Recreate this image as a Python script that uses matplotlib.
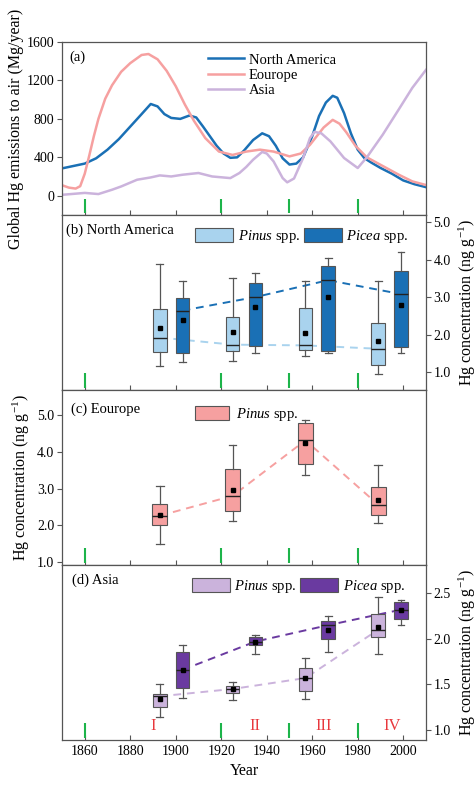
import matplotlib
matplotlib.use('Agg')
import matplotlib.pyplot as plt
from matplotlib.patches import Patch

plt.rcParams['font.family'] = ['Liberation Serif', 'DejaVu Serif']
plt.rcParams['mathtext.fontset'] = 'custom'
plt.rcParams['mathtext.rm'] = 'Liberation Serif'
plt.rcParams['mathtext.it'] = 'Liberation Serif:italic'
plt.rcParams['font.size'] = 10

# ---- panel (a): emissions (Mg/year) ----
na_years = [1850, 1855, 1860, 1865, 1870, 1875, 1880, 1885, 1889, 1892, 1895, 1898, 1902, 1906,
            1909, 1912, 1915, 1918, 1921, 1924, 1927, 1930, 1934, 1938, 1941, 1944, 1947, 1950,
            1953, 1956, 1960, 1963, 1966, 1969, 1971, 1974, 1977, 1980, 1983, 1986, 1990, 1995,
            2000, 2005, 2010]
na_vals = [285, 310, 335, 390, 480, 590, 720, 850, 955, 930, 850, 810, 800, 835,
           815, 720, 620, 520, 440, 395, 400, 470, 580, 650, 620, 520, 390, 325,
           335, 400, 620, 830, 970, 1040, 1020, 860, 650, 480, 390, 345, 290, 230,
           160, 120, 90]

eu_years = [1850, 1853, 1856, 1858, 1860, 1862, 1864, 1866, 1869, 1872, 1876, 1880, 1885, 1888,
            1892, 1896, 1900, 1904, 1908, 1913, 1919, 1925, 1931, 1937, 1943, 1950, 1955, 1959,
            1962, 1965, 1969, 1972, 1975, 1979, 1984, 1991, 1998, 2004, 2010]
eu_vals = [110, 85, 75, 100, 230, 420, 620, 800, 1010, 1150, 1290, 1380, 1465, 1475,
           1420, 1300, 1140, 950, 780, 600, 460, 425, 460, 480, 460, 410, 440, 530,
           620, 710, 790, 750, 660, 520, 400, 310, 220, 150, 112]

as_years = [1850, 1855, 1860, 1866, 1872, 1876, 1883, 1889, 1893, 1898, 1903, 1910, 1916, 1924,
            1928, 1931, 1934, 1938, 1940, 1943, 1947, 1949, 1952, 1956, 1959, 1961, 1964, 1968,
            1974, 1980, 1984, 1991, 1998, 2004, 2010]
as_vals = [10, 20, 30, 18, 63, 97, 167, 191, 212, 201, 219, 237, 201, 184,
           237, 300, 375, 456, 440, 358, 184, 140, 180, 393, 600, 665, 650, 566,
           393, 289, 400, 636, 897, 1123, 1310]

# ---- box statistics: [whislo, q1, med, q3, whishi, mean] ----
na_pinus_x = [1893, 1925, 1957, 1989]
na_pinus = [[1.16, 1.54, 1.92, 2.67, 3.87, 2.17],
            [1.29, 1.57, 1.73, 2.48, 3.51, 2.07],
            [1.43, 1.60, 1.71, 2.71, 3.42, 2.05],
            [0.96, 1.20, 1.62, 2.32, 3.42, 1.84]]
na_picea_x = [1903, 1935, 1967, 1999]
na_picea = [[1.28, 1.51, 2.64, 2.97, 3.44, 2.40],
            [1.52, 1.70, 3.00, 3.38, 3.63, 2.73],
            [1.51, 1.56, 3.45, 3.84, 4.03, 2.99],
            [1.51, 1.66, 3.08, 3.69, 4.20, 2.79]]

eu_pinus_x = [1893, 1925, 1957, 1989]
eu_pinus = [[1.48, 2.00, 2.26, 2.57, 3.06, 2.28],
            [2.11, 2.39, 2.80, 3.53, 4.18, 2.95],
            [3.36, 3.67, 4.31, 4.77, 4.85, 4.23],
            [2.05, 2.28, 2.56, 3.03, 3.65, 2.68]]

as_pinus_x = [1893, 1925, 1957, 1989]
as_pinus = [[1.14, 1.25, 1.37, 1.40, 1.50, 1.34],
            [1.33, 1.41, 1.45, 1.48, 1.53, 1.45],
            [1.34, 1.43, 1.57, 1.68, 1.79, 1.57],
            [1.83, 2.02, 2.10, 2.27, 2.46, 2.13]]
as_picea_x = [1903, 1935, 1967, 1999]
as_picea = [[1.35, 1.46, 1.66, 1.86, 1.93, 1.66],
            [1.83, 1.93, 1.97, 2.02, 2.04, 1.97],
            [1.86, 2.00, 2.15, 2.20, 2.25, 2.10],
            [2.15, 2.22, 2.32, 2.40, 2.43, 2.32]]

period_years = [1860, 1920, 1950, 1980]
period_labels = ['I', 'II', 'III', 'IV']
period_label_x = [1890, 1935, 1965, 1995]

C_NA, C_NA_L = '#1a70b5', '#a9d3ee'
C_EU = '#f6a0a0'
C_AS, C_AS_L = '#6a3aa0', '#cbb3dc'
GRAY = '#555555'
SERIF_IT = '$\\it{%s}$ spp.'


def stats(rows):
    out = []
    for r in rows:
        out.append(dict(whislo=r[0], q1=r[1], med=r[2], q3=r[3], whishi=r[4], mean=r[5]))
    return out


def draw_boxes(ax, xs, rows, color, line_color, width=6.0):
    meds = [r[2] for r in rows]
    ax.plot(xs, meds, ls=(0, (4, 3)), color=line_color, lw=1.4, zorder=1)
    ax.bxp(stats(rows), positions=xs, widths=width, showmeans=True, showfliers=False,
           patch_artist=True, capwidths=width * 0.5, manage_ticks=False,
           boxprops=dict(facecolor=color, edgecolor=GRAY, lw=0.8),
           medianprops=dict(color='#222222', lw=1.0),
           whiskerprops=dict(color=GRAY, lw=0.9),
           capprops=dict(color=GRAY, lw=0.9),
           meanprops=dict(marker='s', markerfacecolor='black', markeredgecolor='black',
                          markersize=3.5), zorder=3)


fig = plt.figure(figsize=(4.77, 7.85), dpi=100)
L, W = 0.130, 0.763
ax_a = fig.add_axes([L, 0.7261, W, 0.2204])
ax_b = fig.add_axes([L, 0.5032, W, 0.2229])
ax_c = fig.add_axes([L, 0.2803, W, 0.2229])
ax_d = fig.add_axes([L, 0.0573, W, 0.2229])
axes = [ax_a, ax_b, ax_c, ax_d]

# (a)
ax_a.plot(na_years, na_vals, color=C_NA, lw=1.8, label='North America')
ax_a.plot(eu_years, eu_vals, color=C_EU, lw=1.8, label='Eourope')
ax_a.plot(as_years, as_vals, color=C_AS_L, lw=1.8, label='Asia')
ax_a.set_ylim(-200, 1600)
ax_a.set_yticks([0, 400, 800, 1200, 1600])
ax_a.set_ylabel('Global Hg emissions to air (Mg/year)', fontsize=11.5, labelpad=2)
ax_a.legend(loc='upper left', bbox_to_anchor=(0.365, 1.01), frameon=False, fontsize=10.5,
            handlelength=2.5, labelspacing=0.15, handletextpad=0.3)
ax_a.text(0.02, 0.95, '(a)', transform=ax_a.transAxes, fontsize=10.5, va='top')

# (b)
draw_boxes(ax_b, na_pinus_x, na_pinus, C_NA_L, C_NA_L)
draw_boxes(ax_b, na_picea_x, na_picea, C_NA, C_NA)
ax_b.set_ylim(0.52, 5.19)
ax_b.set_yticks([1, 2, 3, 4, 5])
ax_b.text(0.012, 0.95, '(b) North America', transform=ax_b.transAxes, fontsize=10.5, va='top')
ax_b.legend(handles=[Patch(facecolor=C_NA_L, edgecolor=GRAY, lw=0.8, label=SERIF_IT % 'Pinus'),
                     Patch(facecolor=C_NA, edgecolor=GRAY, lw=0.8, label=SERIF_IT % 'Picea')],
            loc='upper left', bbox_to_anchor=(0.33, 1.0), ncol=2, frameon=False, fontsize=10.5,
            handlelength=2.6, handleheight=1.1, handletextpad=0.3, columnspacing=0.3)

# (c)
draw_boxes(ax_c, eu_pinus_x, eu_pinus, C_EU, C_EU, width=6.5)
ax_c.set_ylim(0.92, 5.68)
ax_c.set_yticks([1, 2, 3, 4, 5])
ax_c.text(0.025, 0.93, '(c) Eourope', transform=ax_c.transAxes, fontsize=10.5, va='top')
ax_c.legend(handles=[Patch(facecolor=C_EU, edgecolor=GRAY, lw=0.8, label=SERIF_IT % 'Pinus')],
            loc='upper left', bbox_to_anchor=(0.33, 0.985), frameon=False, fontsize=10.5,
            handlelength=2.3, handleheight=1.1, handletextpad=0.5)

# (d)
draw_boxes(ax_d, as_pinus_x, as_pinus, C_AS_L, C_AS_L)
draw_boxes(ax_d, as_picea_x, as_picea, C_AS, C_AS)
ax_d.set_ylim(0.89, 2.81)
ax_d.set_yticks([1.0, 1.5, 2.0, 2.5])
ax_d.text(0.028, 0.95, '(d) Asia', transform=ax_d.transAxes, fontsize=10.5, va='top')
ax_d.legend(handles=[Patch(facecolor=C_AS_L, edgecolor=GRAY, lw=0.8, label=SERIF_IT % 'Pinus'),
                     Patch(facecolor=C_AS, edgecolor=GRAY, lw=0.8, label=SERIF_IT % 'Picea')],
            loc='upper left', bbox_to_anchor=(0.32, 1.0), ncol=2, frameon=False, fontsize=10.5,
            handlelength=2.6, handleheight=1.1, handletextpad=0.3, columnspacing=0.3)
for lab, xp in zip(period_labels, period_label_x):
    ax_d.text(xp, 0.08, lab, transform=ax_d.get_xaxis_transform(), color='#e8383d',
              fontsize=12, ha='center', va='center')
ax_d.set_xlabel('Year', fontsize=11.5)

for ax in [ax_b, ax_c, ax_d]:
    ax.yaxis.set_major_formatter(matplotlib.ticker.FormatStrFormatter('%.1f'))

for ax in [ax_b, ax_d]:
    ax.yaxis.tick_right()
    ax.yaxis.set_label_position('right')
    ax.set_ylabel('Hg concentration (ng g$^{-1}$)', fontsize=11.5, labelpad=4)
ax_c.set_ylabel('Hg concentration (ng g$^{-1}$)', fontsize=11.5, labelpad=4)

for ax in axes:
    ax.set_xlim(1850, 2010)
    ax.set_xticks(range(1860, 2001, 20))
    ax.tick_params(axis='x', direction='in', length=3.5, color=GRAY, labelsize=10)
    ax.tick_params(axis='y', direction='out', length=3.5, color=GRAY, labelsize=10, pad=2)
    for s in ax.spines.values():
        s.set_color(GRAY)
        s.set_linewidth(0.9)
    ax.vlines(period_years, 0.01, 0.095, transform=ax.get_xaxis_transform(),
              color='#1db44a', lw=1.5, zorder=5)
    if ax is not ax_d:
        ax.tick_params(axis='x', labelbottom=False)

fig.savefig('out.png', dpi=100)
